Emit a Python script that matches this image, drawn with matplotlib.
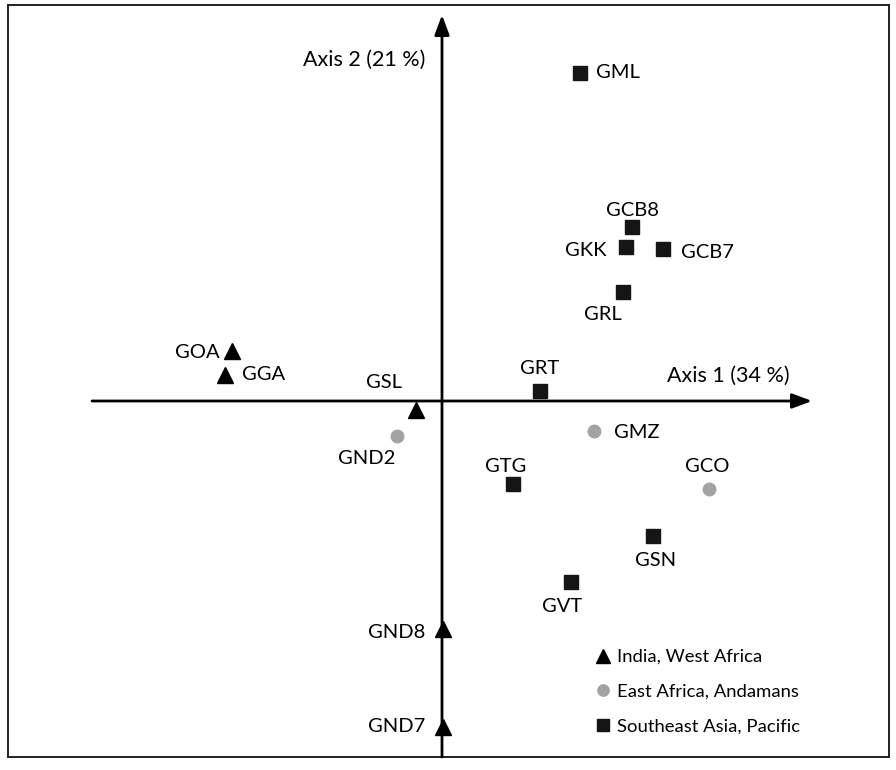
import matplotlib.pyplot as plt

plt.rcParams['font.family'] = ['Lato', 'DejaVu Sans']

# India, West Africa (triangles)
tri_names = ['GOA', 'GGA', 'GSL', 'GND8', 'GND7']
tri_x = [-2.10, -2.17, -0.26, 0.01, 0.01]
tri_y = [0.50, 0.26, -0.09, -2.28, -3.26]

# East Africa, Andamans (grey circles)
circ_names = ['GMZ', 'GCO', 'GND2']
circ_x = [1.52, 2.67, -0.45]
circ_y = [-0.30, -0.88, -0.35]

# Southeast Asia, Pacific (squares)
sq_names = ['GML', 'GCB8', 'GKK', 'GCB7', 'GRL', 'GRT', 'GTG', 'GSN', 'GVT']
sq_x = [1.38, 1.90, 1.84, 2.21, 1.81, 0.98, 0.71, 2.11, 1.29]
sq_y = [3.28, 1.74, 1.54, 1.52, 1.09, 0.10, -0.83, -1.35, -1.81]

group_labels = ['India, West Africa', 'East Africa, Andamans', 'Southeast Asia, Pacific']

# label offsets (pixels) and alignment per point
label_pos = {
    'GML': (16, 0, 'left'), 'GCB8': (0, 17, 'center'), 'GKK': (-20, -3, 'right'),
    'GCB7': (18, -3, 'left'), 'GRL': (-20, -22, 'center'), 'GRT': (0, 22, 'center'),
    'GTG': (-7, 18, 'center'), 'GSN': (3, -24, 'center'), 'GVT': (-9, -24, 'center'),
    'GMZ': (20, -1, 'left'), 'GCO': (-2, 23, 'center'), 'GND2': (-30, -22, 'center'),
    'GOA': (-12, -1, 'right'), 'GGA': (17, 0, 'left'), 'GSL': (-32, 27, 'center'),
    'GND8': (-18, -4, 'right'), 'GND7': (-18, 0, 'right'),
}

fig = plt.figure(figsize=(8.96, 7.7), dpi=100)
ax = fig.add_axes([8 / 896, 13 / 770, 881 / 896, 752 / 770])
ax.set_xlim(-4.34, 4.47)
ax.set_ylim(-3.56, 3.96)
ax.set_xticks([])
ax.set_yticks([])
for s in ax.spines.values():
    s.set_linewidth(1.4)
    s.set_color('#222222')

# axis arrows through the origin
arrow = dict(arrowstyle='-|>,head_length=1.2,head_width=0.45', color='black', lw=2,
             shrinkA=0, shrinkB=0)
ax.annotate('', xy=(3.70, 0), xytext=(-3.50, 0), arrowprops=arrow)
ax.annotate('', xy=(0, 3.86), xytext=(0, -3.56), arrowprops=arrow)
ax.text(-0.17, 3.41, 'Axis 2 (21 %)', ha='right', va='center', fontsize=15.5)
ax.text(3.48, 0.25, 'Axis 1 (34 %)', ha='right', va='center', fontsize=15.5)

ax.plot(tri_x, tri_y, '^', color='black', ms=11, ls='none', label=group_labels[0], zorder=3)
ax.plot(circ_x, circ_y, 'o', color='#a3a3a3', ms=9, ls='none', label=group_labels[1], zorder=3)
ax.plot(sq_x, sq_y, 's', color='#151515', ms=10, ls='none', label=group_labels[2], zorder=3)

for names, xs, ys in [(tri_names, tri_x, tri_y), (circ_names, circ_x, circ_y),
                      (sq_names, sq_x, sq_y)]:
    for n, x, y in zip(names, xs, ys):
        dx, dy, ha = label_pos[n]
        ax.annotate(n, (x, y), xytext=(dx, dy), textcoords='offset pixels',
                    ha=ha, va='center', fontsize=14.5)

ax.legend(loc='upper left', bbox_to_anchor=(0.667, 0.1436), frameon=False,
          fontsize=13.3, handlelength=0.8, handletextpad=0.35, labelspacing=1.02,
          borderpad=0, borderaxespad=0, markerscale=0.9)

fig.savefig('out.png', dpi=100)
